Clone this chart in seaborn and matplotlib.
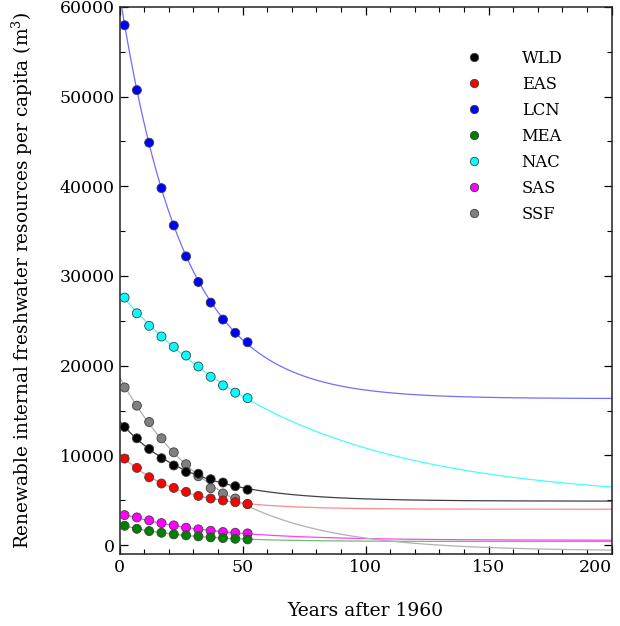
import numpy as np
import pandas as pd
import seaborn as sns
import matplotlib
matplotlib.use("Agg")
import matplotlib.pyplot as plt
from matplotlib.ticker import MultipleLocator

# years after 1960 (data every 5 years)
years = [2, 7, 12, 17, 22, 27, 32, 37, 42, 47, 52]

regions = ["WLD", "EAS", "LCN", "MEA", "NAC", "SAS", "SSF"]

wld = [13160, 11900, 10710, 9680, 8870, 8150, 7950, 7340, 6970, 6560, 6170]
eas = [9640, 8600, 7560, 6860, 6370, 5930, 5480, 5190, 4970, 4780, 4590]
lcn = [57950, 50720, 44860, 39790, 35630, 32180, 29330, 27030, 25140, 23660, 22610]
mea = [2150, 1810, 1560, 1370, 1190, 1080, 970, 860, 780, 700, 630]
nac = [27590, 25840, 24440, 23250, 22100, 21130, 19910, 18760, 17800, 16990, 16380]
sas = [3340, 3080, 2750, 2450, 2190, 1930, 1750, 1590, 1450, 1370, 1300]
ssf = [17570, 15540, 13720, 11900, 10340, 9010, 7670, 6340, 5750, 5190, 4550]

values = {"WLD": wld, "EAS": eas, "LCN": lcn, "MEA": mea,
          "NAC": nac, "SAS": sas, "SSF": ssf}

x_ticks = [0, 50, 100, 150, 200]

marker_colors = {"WLD": "black", "EAS": "red", "LCN": "blue", "MEA": "green",
                 "NAC": "cyan", "SAS": "magenta", "SSF": "gray"}
line_colors = {"WLD": "#404040", "EAS": "#ff8a8a", "LCN": "#6e6eff", "MEA": "#6fbf6f",
               "NAC": "#40ffff", "SAS": "#ff40ff", "SSF": "#b0b0b0"}

# points table, last region first so WLD ends up on top
rows = []
for reg in regions[::-1]:
    for yr, v in zip(years, values[reg]):
        rows.append({"year": yr, "value": v, "region": reg})
points = pd.DataFrame(rows)


# exponential decay fit  v = a*exp(-b*t) + c  (grid over b, least squares for a, c)
def fit_decay(t, v):
    t = np.asarray(t, float)
    v = np.asarray(v, float)
    best = None
    for b in np.linspace(0.002, 0.3, 3000):
        A = np.column_stack([np.exp(-b * t), np.ones_like(t)])
        coef, res, _, _ = np.linalg.lstsq(A, v, rcond=None)
        err = np.sum((A @ coef - v) ** 2)
        if best is None or err < best[0]:
            best = (err, b, coef)
    return best[1], best[2]


tt = np.linspace(0, 200, 401)
curves = []
for reg in regions:
    b, (a, c) = fit_decay(years, values[reg])
    curves.append(pd.DataFrame({"year": tt, "value": a * np.exp(-b * tt) + c, "region": reg}))
curves = pd.concat(curves, ignore_index=True)

sns.set_theme(style="ticks")
plt.rcParams["font.family"] = ["DejaVu Serif"]
plt.rcParams["mathtext.fontset"] = "dejavuserif"
for key in ["text.color", "axes.labelcolor", "xtick.color", "ytick.color"]:
    plt.rcParams[key] = "black"

fig = plt.figure(figsize=(6.2, 6.26), dpi=100)
ax = fig.add_axes([0.193, 0.115, 0.7935, 0.874])

sns.lineplot(data=curves, x="year", y="value", hue="region", hue_order=regions,
             palette=line_colors, linewidth=0.9, legend=False, ax=ax, zorder=1)
sns.scatterplot(data=points, x="year", y="value", hue="region", hue_order=regions,
                palette=marker_colors, s=42, edgecolor="#404040", linewidth=0.6,
                ax=ax, zorder=3)

ax.set_xlim(0, 200)
ax.set_ylim(-1000, 60000)
ax.set_xticks(x_ticks)
ax.xaxis.set_minor_locator(MultipleLocator(10))
ax.yaxis.set_major_locator(MultipleLocator(10000))
ax.yaxis.set_minor_locator(MultipleLocator(5000))
ax.tick_params(which="both", direction="in", top=True, right=True, labelsize=12.5)
ax.tick_params(which="major", length=6, width=0.9)
ax.tick_params(which="minor", length=3.5, width=0.8)
for sp in ax.spines.values():
    sp.set_linewidth(1.1)
    sp.set_color("#222222")

# keep the last x tick label inside the figure
ax.xaxis.get_major_ticks()[-1].label1.set_horizontalalignment("right")

ax.set_xlabel("Years after 1960", fontsize=13.5, labelpad=19)
ax.set_ylabel("Renewable internal freshwater resources per capita (m$^3$)", fontsize=13.3, labelpad=18)

handles, labels = ax.get_legend_handles_labels()
for h in handles:
    h.set_markersize(6)
ax.legend(handles, labels, loc="upper left", bbox_to_anchor=(0.674, 0.934), frameon=False,
          fontsize=11.8, handletextpad=1.9, labelspacing=0.55, borderaxespad=0)

fig.savefig("out.png", dpi=100)
